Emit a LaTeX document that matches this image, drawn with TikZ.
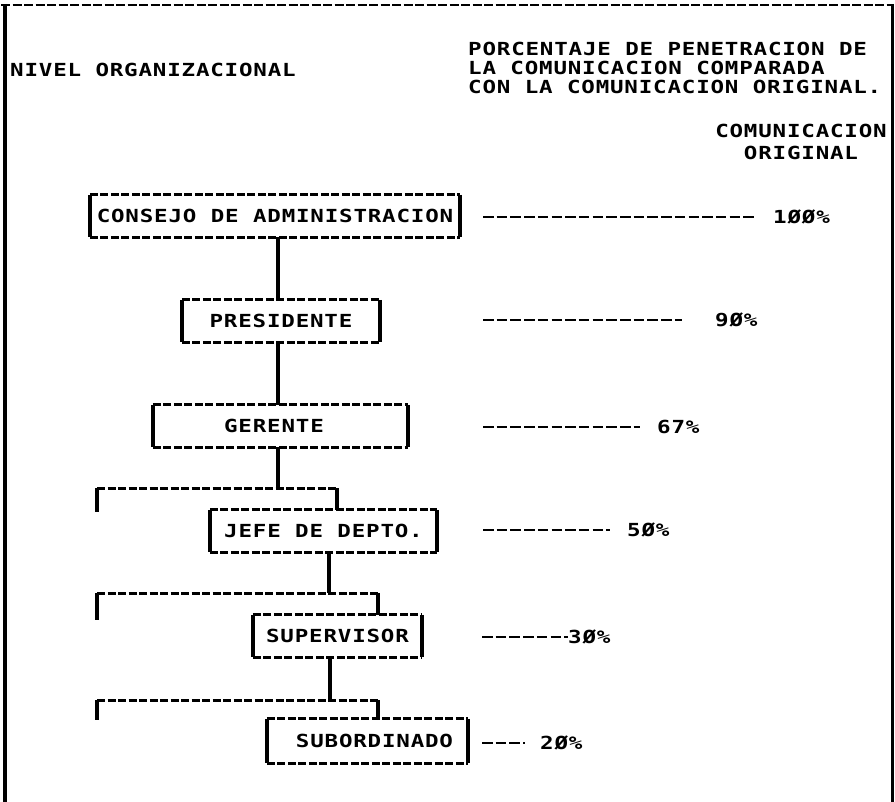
\documentclass[tikz,border=0pt]{standalone}
\usepackage{fontspec}
\newfontfamily\dotfont{DejaVu Sans Mono}[FakeStretch=1.25, LetterSpace=4.5]
\tikzset{
  txt/.style={font={\dotfont\bfseries\fontsize{18}{19}\selectfont}, inner sep=0pt, text=black},
  orgbox/.style={txt, minimum height=42pt},
  dline/.style={line width=3pt, dash pattern=on 8pt off 2.5pt, black},
  sline/.style={line width=3.6pt, black},
  pline/.style={line width=2.8pt, dash pattern=on 10.5pt off 3.2pt, black},
}
\newcommand\edgesof[1]{%
  \draw[dline] (#1.north west) -- (#1.north east);
  \draw[dline] (#1.south west) -- (#1.south east);
  \draw[sline] (#1.north west) -- (#1.south west);
  \draw[sline] (#1.north east) -- (#1.south east);}
\begin{document}
\begin{tikzpicture}[x=1pt, y=-1pt]
\useasboundingbox (0,0) rectangle (895,802);
\fill[white] (0,0) rectangle (895,802);
% frame
\draw[line width=2.6pt, dash pattern=on 9pt off 2.5pt] (1,5) -- (892,5);
\draw[line width=3.5pt] (5,4) -- (5,802);
\draw[line width=3pt] (892,4) -- (892,802);
% headings
\node[txt, anchor=west] (nivel) at (10,70) {NIVEL ORGANIZACIONAL};
\node[txt, anchor=west, align=left] (porc) at (468,68)
  {PORCENTAJE DE PENETRACION DE\\LA COMUNICACION COMPARADA\\CON LA COMUNICACION ORIGINAL.};
\node[txt, align=center] (orig) at (801,142) {COMUNICACION\\[3pt]ORIGINAL};
% boxes
\node[orgbox, minimum width=370pt] (consejo) at (275,216) {CONSEJO DE ADMINISTRACION};
\node[orgbox, minimum width=198pt] (pres) at (281,321) {PRESIDENTE};
\node[orgbox, minimum width=255pt] (ger) at (280.5,426) {GERENTE\hspace*{13pt}};
\node[orgbox, minimum width=227pt] (jefe) at (323.5,531) {JEFE DE DEPTO.};
\node[orgbox, minimum width=169pt] (sup) at (337.5,636) {SUPERVISOR};
\node[orgbox, minimum width=201pt, minimum height=44pt] (sub) at (367.5,741) {\hspace*{14pt}SUBORDINADO};
\edgesof{consejo}
\edgesof{pres}
\edgesof{ger}
\edgesof{jefe}
\edgesof{sup}
\edgesof{sub}
% vertical connectors
\draw[sline] ([xshift=-3pt]pres.north) -- ([xshift=-3pt]pres.north |- consejo.south);
\draw[sline] ([xshift=-2.5pt]ger.north) -- ([xshift=-2.5pt]ger.north |- pres.south);
% bracket 1
\coordinate (b1L) at (97,488);
\coordinate (b1R) at (337,488);
\coordinate (b1E) at (97,512);
\draw[sline] ([xshift=-2.5pt]ger.south) -- ([xshift=-2.5pt]ger.south |- b1L);
\draw[dline] (b1L) -- (b1R);
\draw[sline] (b1L) -- (b1E);
\draw[sline] (b1R) -- (b1R |- jefe.north);
% bracket 2
\coordinate (b2L) at (97,593);
\coordinate (b2R) at (378,593);
\coordinate (b2E) at (97,620);
\draw[sline] ([xshift=5.5pt]jefe.south) -- ([xshift=5.5pt]jefe.south |- b2L);
\draw[dline] (b2L) -- (b2R);
\draw[sline] (b2L) -- (b2E);
\draw[sline] (b2R) -- (b2R |- sup.north);
% bracket 3
\coordinate (b3L) at (97,700);
\coordinate (b3R) at (378,700);
\coordinate (b3E) at (97,720);
\draw[sline] ([xshift=-7.5pt]sup.south) -- ([xshift=-7.5pt]sup.south |- b3L);
\draw[dline] (b3L) -- (b3R);
\draw[sline] (b3L) -- (b3E);
\draw[sline] (b3R) -- (b3R |- sub.north);
% percentages
\node[txt, anchor=west] (p100) at (773,217) {1ØØ\%};
\node[txt, anchor=west] (p90) at (715,320) {9Ø\%};
\node[txt, anchor=west] (p67) at (657,427) {67\%};
\node[txt, anchor=west] (p50) at (627,530) {5Ø\%};
\node[txt, anchor=west] (p30) at (568,637) {3Ø\%};
\node[txt, anchor=west] (p20) at (540,743) {2Ø\%};
\coordinate (s100) at (483,217);
\coordinate (s90) at (483,320);
\coordinate (s67) at (483,427);
\coordinate (s50) at (483,530);
\coordinate (s30) at (482,637);
\coordinate (s20) at (482,743);
\draw[pline] (s100) -- ([xshift=-18pt]p100.west);
\draw[pline] (s90) -- ([xshift=-33pt]p90.west);
\draw[pline] (s67) -- ([xshift=-17pt]p67.west);
\draw[pline] (s50) -- ([xshift=-17pt]p50.west);
\draw[pline] (s30) -- (p30.west);
\draw[pline] (s20) -- ([xshift=-15pt]p20.west);
\end{tikzpicture}
\end{document}
